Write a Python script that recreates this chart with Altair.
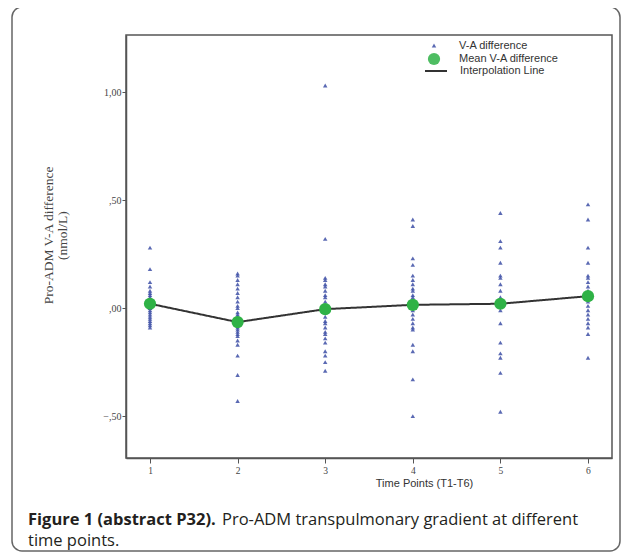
import altair as alt
import pandas as pd

# ---- data ----
time_points = [1, 2, 3, 4, 5, 6]

va_t1 = [0.28, 0.18, 0.12, 0.10, 0.08, 0.07, 0.06, 0.05, 0.04, 0.03, 0.03, 0.02,
         0.01, 0.00, 0.00, -0.01, -0.02, -0.03, -0.04, -0.05, -0.06, -0.07, -0.08, -0.09]
va_t2 = [0.16, 0.15, 0.13, 0.11, 0.09, 0.07, 0.05, 0.03, 0.01, 0.00, -0.02, -0.03,
         -0.04, -0.05, -0.06, -0.07, -0.08, -0.09, -0.10, -0.11, -0.12, -0.13, -0.15,
         -0.17, -0.22, -0.31, -0.43]
va_t3 = [1.03, 0.32, 0.14, 0.13, 0.11, 0.10, 0.08, 0.06, 0.05, 0.03, 0.01, -0.02,
         -0.04, -0.06, -0.07, -0.09, -0.11, -0.12, -0.14, -0.16, -0.20, -0.22, -0.25, -0.29]
va_t4 = [0.41, 0.38, 0.23, 0.20, 0.15, 0.13, 0.11, 0.09, 0.08, 0.06, 0.05, 0.03,
         0.02, 0.01, 0.00, -0.01, -0.03, -0.05, -0.07, -0.09, -0.10, -0.17, -0.20,
         -0.33, -0.50]
va_t5 = [0.44, 0.31, 0.28, 0.21, 0.15, 0.14, 0.11, 0.08, 0.05, 0.03, 0.02, -0.01,
         -0.07, -0.16, -0.21, -0.23, -0.30, -0.48]
va_t6 = [0.48, 0.41, 0.28, 0.21, 0.15, 0.14, 0.12, 0.10, 0.08, 0.06, 0.05, 0.03,
         0.01, -0.01, -0.03, -0.05, -0.07, -0.09, -0.12, -0.23]

mean_va = [0.02, -0.065, -0.005, 0.015, 0.02, 0.055]

point_series = ["V-A difference", "Mean V-A difference"]
point_colors = ["#3d4fa6", "#2fb246"]
point_shapes = ["triangle-up", "circle"]
point_sizes = [20, 150]
line_series = ["Interpolation Line"]
line_color = "#333333"

y_ticks = [-0.5, 0, 0.5, 1.0]
x_title = "Time Points (T1-T6)"
y_title = ["Pro-ADM  V-A difference", "(nmol/L)"]
caption_bold = "Figure 1 (abstract P32)."
caption_rest = "Pro-ADM transpulmonary gradient at different"
caption_line2 = "time points."

# ---- tables ----
rows = []
for t, vals in zip(time_points, [va_t1, va_t2, va_t3, va_t4, va_t5, va_t6]):
    for v in vals:
        rows.append({"time": t, "value": v, "series": point_series[0]})
points_df = pd.DataFrame(rows)
means_df = pd.DataFrame({"time": time_points, "value": mean_va,
                         "series": [point_series[1]] * len(time_points),
                         "line": [line_series[0]] * len(time_points)})
one_df = pd.DataFrame({"k": [0]})

x_enc = alt.X(
    "time:Q",
    scale=alt.Scale(domain=[0.726, 6.274], nice=False),
    axis=alt.Axis(values=time_points, format="d", title=x_title,
                  titleX=298, titleY=19, titleBaseline="top",
                  titleFont="Liberation Sans", titleFontSize=11,
                  titleFontWeight="normal", titleColor="#333",
                  labelFont="Liberation Serif", labelFontSize=9.5,
                  labelColor="#444", labelPadding=2, tickSize=5,
                  grid=False, domainColor="#555", domainWidth=1.5,
                  tickColor="#555"),
)
y_enc = alt.Y(
    "value:Q",
    scale=alt.Scale(domain=[-0.694, 1.264], nice=False, zero=False),
    axis=alt.Axis(values=y_ticks,
                  labelExpr="replace(replace(format(datum.value, '.2f'), '.', ','), '0,', ',')",
                  title=y_title, titleX=-71, titleY=200, titleAngle=-90,
                  titleAlign="center", titleBaseline="bottom",
                  titleFont="Liberation Serif", titleFontSize=13.5,
                  titleFontWeight="normal", titleColor="#444", titleLineHeight=14,
                  labelFont="Liberation Serif", labelFontSize=10,
                  labelColor="#444", labelPadding=1, tickSize=4,
                  grid=False, domainColor="#555", domainWidth=1.5,
                  tickColor="#555"),
)

point_legend = alt.Legend(
    title=None, orient="none", legendX=301, legendY=5,
    labelFont="Liberation Sans", labelFontSize=11, labelColor="#333",
    labelOffset=18, rowPadding=1,
)
line_legend = alt.Legend(
    title=None, orient="none", legendX=298, legendY=24,
    labelFont="Liberation Sans", labelFontSize=11, labelColor="#333",
    labelOffset=12, symbolType="stroke", symbolStrokeColor=line_color,
    symbolStrokeWidth=2, symbolSize=484,
)

color_enc = alt.Color("series:N", scale=alt.Scale(domain=point_series, range=point_colors), legend=point_legend)
shape_enc = alt.Shape("series:N", scale=alt.Scale(domain=point_series, range=point_shapes), legend=point_legend)
size_enc = alt.Size("series:N", scale=alt.Scale(domain=point_series, range=point_sizes), legend=point_legend)

raw_layer = alt.Chart(points_df).mark_point(filled=True, opacity=0.85).encode(
    x=x_enc, y=y_enc, color=color_enc, shape=shape_enc, size=size_enc)

line_layer = alt.Chart(means_df).mark_line(color=line_color, strokeWidth=2).encode(
    x="time:Q", y="value:Q",
    strokeDash=alt.StrokeDash("line:N", scale=alt.Scale(domain=line_series, range=[[1, 0]]),
                              legend=line_legend))

mean_layer = alt.Chart(means_df).mark_point(filled=True, opacity=1).encode(
    x="time:Q", y="value:Q", color=color_enc, shape=shape_enc, size=size_enc)

frame = alt.Chart(one_df).mark_rect(fillOpacity=0, stroke="#666666", strokeWidth=1.5,
                                    cornerRadius=10).encode(
    x=alt.value(-114), x2=alt.value(494), y=alt.value(-28), y2=alt.value(516))

cap1 = alt.Chart(one_df).mark_text(text=caption_bold, align="left", baseline="alphabetic",
                                   font="Open Sans", fontSize=16.5, fontWeight="bold",
                                   color="#231f20").encode(
    x=alt.value(-98), y=alt.value(490))
cap2 = alt.Chart(one_df).mark_text(text=caption_rest, align="left", baseline="alphabetic",
                                   font="Open Sans", fontSize=16.5,
                                   color="#231f20").encode(
    x=alt.value(96), y=alt.value(490))
cap3 = alt.Chart(one_df).mark_text(text=caption_line2, align="left", baseline="alphabetic",
                                   font="Open Sans", fontSize=16.5,
                                   color="#231f20").encode(
    x=alt.value(-98), y=alt.value(511))

chart = alt.layer(frame, raw_layer, line_layer, mean_layer, cap1, cap2, cap3).properties(
    width=486, height=423,
    autosize=alt.AutoSizeParams(type="none"),
    padding={"left": 118, "top": 27, "right": 13, "bottom": 94},
    background="white",
).configure_view(stroke="#555", strokeWidth=1.5)

chart.save("out.html", embed_options={"renderer": "svg", "actions": False})
